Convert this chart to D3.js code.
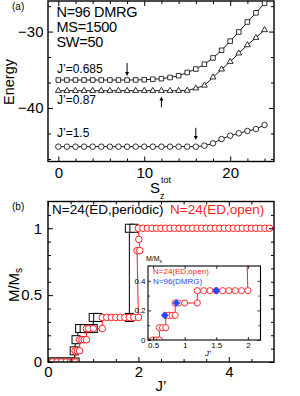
<!DOCTYPE html>
<html>
<head>
<meta charset="utf-8">
<script src="https://d3js.org/d3.v7.min.js"></script>
<style>
  body { margin: 0; background: #fff; }
  svg text { font-family: "Liberation Sans", Arial, sans-serif; }
</style>
</head>
<body>
<script>
// ---- panel (a): DMRG energy vs S_z^tot (N=96)
var szTot = [0,1,2,3,4,5,6,7,8,9,10,11,12,13,14,15,16,17,18,19,20,21,22,23,24];
var energyJ0685 = [-36.34,-36.34,-36.34,-36.34,-36.34,-36.34,-36.34,-36.34,-36.34,-36.33,-36.30,-36.24,-36.16,-36.01,-35.78,-35.35,-34.90,-34.28,-33.45,-32.45,-31.25,-30.05,-28.75,-27.55,-26.30];
var energyJ087 = [-37.74,-37.74,-37.74,-37.74,-37.74,-37.74,-37.74,-37.74,-37.74,-37.74,-37.74,-37.74,-37.74,-37.74,-37.74,-37.72,-37.42,-37.05,-35.98,-34.94,-33.94,-32.84,-31.76,-30.80,-29.79];
var energyJ15 = [-45.06,-45.06,-45.06,-45.06,-45.06,-45.06,-45.06,-45.06,-45.06,-45.06,-45.06,-45.06,-45.06,-45.06,-45.06,-45.06,-45.06,-44.93,-44.62,-44.06,-43.62,-43.31,-43.01,-42.75,-42.22];
// arrows marking the onset of magnetization: S position, tail energy, tip energy
var arrowS = [8, 12, 16];
var arrowFrom = [-34.1, -39.9, -42.6];
var arrowTo = [-35.8, -38.5, -44.2];

var aXMajor = [0, 10, 20];
var aXMinor = [2, 4, 6, 8, 12, 14, 16, 18, 22, 24];
var aYMajor = [-30, -40];
var aYMinor = [-26.67, -33.33, -36.67, -43.33, -46.67];

// ---- panel (b): M/Ms vs J'
var periodicJ = [0, 0.1, 0.2, 0.3, 0.4, 0.5, 0.6, 0.58, 0.62, 0.7, 0.8, 0.9, 1.0, 1.0, 1.1, 1.8, 1.8, 1.9];
var periodicM = [0, 0, 0, 0, 0, 0, 0, 0.0833, 0.1667, 0.25, 0.25, 0.25, 0.25, 0.3333, 0.3333, 0.3333, 1, 1];

var openJ = [0, 0.1, 0.2, 0.3, 0.4, 0.5, 0.55, 0.6,
  0.6, 0.65, 0.7,
  0.7, 0.75, 0.8, 0.85,
  0.85, 0.9, 1.0, 1.2,
  1.2, 1.3, 1.4, 1.5, 1.6, 1.7, 1.8, 1.9, 2.0,
  1.97, 2.03, 2.01,
  2.0, 2.1, 2.2, 2.3, 2.4, 2.5, 2.6, 2.7, 2.8, 2.9, 3.0, 3.1, 3.2, 3.3, 3.4, 3.5,
  3.6, 3.7, 3.8, 3.9, 4.0, 4.1, 4.2, 4.3, 4.4, 4.5, 4.6, 4.7, 4.8, 4.9];
var openM = [0, 0, 0, 0, 0, 0, 0, 0,
  0.0833, 0.0833, 0.0833,
  0.1667, 0.1667, 0.1667, 0.1667,
  0.25, 0.25, 0.25, 0.25,
  0.3333, 0.3333, 0.3333, 0.3333, 0.3333, 0.3333, 0.3333, 0.3333, 0.3333,
  0.833, 0.833, 0.917,
  1, 1, 1, 1, 1, 1, 1, 1, 1, 1, 1, 1, 1, 1, 1, 1,
  1, 1, 1, 1, 1, 1, 1, 1, 1, 1, 1, 1, 1, 1];

var dmrgJ = [0.685, 0.87, 1.5];
var dmrgM = [0.1667, 0.25, 0.3333];

var bXMajor = [0, 2, 4];
var bXMinor = [0.5, 1, 1.5, 2.5, 3, 3.5, 4.5];
var bYMajor = [0, 0.5, 1];
var bYMinor = [0.1, 0.2, 0.3, 0.4, 0.6, 0.7, 0.8, 0.9, 1.1];
var inXMajor = [0.5, 1, 1.5, 2];
var inYMajor = [0, 0.2, 0.4];
var inYMinor = [0.1, 0.3];

var RED = "#ff1e1e", BLUE = "#1f4cff";

var svg = d3.select("body").append("svg")
  .attr("width", 300).attr("height", 396)
  .style("background", "#fff");

function zip(a, b) { return a.map(function (d, i) { return [d, b[i]]; }); }

// inward ticks on all four sides, labels on bottom/left only
function drawAxes(g, x, y, w, h, o) {
  function styleAx(sel) {
    sel.select(".domain").remove();
    sel.selectAll("line").attr("stroke", "#000").attr("stroke-width", o.tickW || 1);
    sel.selectAll("text").style("font-size", o.fs + "px").attr("fill", "#000");
  }
  var bx = g.append("g").attr("transform", "translate(0," + h + ")")
    .call(d3.axisBottom(x).tickValues(o.xMajor).tickSize(-o.major).tickPadding(o.xPad).tickFormat(o.xFmt));
  styleAx(bx);
  var ly = g.append("g")
    .call(d3.axisLeft(y).tickValues(o.yMajor).tickSize(-o.major).tickPadding(o.yPad).tickFormat(o.yFmt));
  styleAx(ly);
  // minor ticks bottom/left, all ticks top/right
  [[d3.axisBottom(x), "translate(0," + h + ")", o.xMinor],
   [d3.axisTop(x), null, o.xMinor],
   [d3.axisLeft(y), null, o.yMinor],
   [d3.axisRight(y), "translate(" + w + ",0)", o.yMinor]
  ].forEach(function (s) {
    var gg = g.append("g");
    if (s[1]) gg.attr("transform", s[1]);
    gg.call(s[0].tickValues(s[2]).tickFormat("").tickSize(-o.minor));
    styleAx(gg);
  });
  var t = g.append("g").call(d3.axisTop(x).tickValues(o.xMajor).tickFormat("").tickSize(-o.major));
  styleAx(t);
  var r = g.append("g").attr("transform", "translate(" + w + ",0)")
    .call(d3.axisRight(y).tickValues(o.yMajor).tickFormat("").tickSize(-o.major));
  styleAx(r);
  g.append("rect").attr("width", w).attr("height", h)
    .attr("fill", "none").attr("stroke", "#000").attr("stroke-width", o.frameW || 1.4);
}

/* ---------------- panel (a) ---------------- */
var pa = {left: 48, top: 1, width: 226, height: 160.5};
var xa = d3.scaleLinear().domain([-1.2, 25.1]).range([0, pa.width]);
var ya = d3.scaleLinear().domain([-47, -26]).range([pa.height, 0]);
var ga = svg.append("g").attr("transform", "translate(" + pa.left + "," + pa.top + ")");

svg.append("defs").append("clipPath").attr("id", "clipA")
  .append("rect").attr("width", pa.width).attr("height", pa.height);

var fmtMinus = function (d) { return d < 0 ? "\u2212" + Math.abs(d) : d; };
drawAxes(ga, xa, ya, pa.width, pa.height, {
  xMajor: aXMajor, xMinor: aXMinor, yMajor: aYMajor, yMinor: aYMinor,
  major: 5, minor: 3, fs: 15, xPad: 5.5, yPad: 4.5, xFmt: d3.format("d"), yFmt: fmtMinus
});

var lineA = d3.line().x(function (d) { return xa(d[0]); }).y(function (d) { return ya(d[1]); });
var plotA = ga.append("g").attr("clip-path", "url(#clipA)");
var seriesA = [
  {vals: energyJ0685, sym: d3.symbolSquare, size: 21},
  {vals: energyJ087, sym: d3.symbolTriangle, size: 15},
  {vals: energyJ15, sym: d3.symbolCircle, size: 24}
];
seriesA.forEach(function (s) {
  var pts = zip(szTot, s.vals);
  plotA.append("path").datum(pts).attr("d", lineA)
    .attr("fill", "none").attr("stroke", "#000").attr("stroke-width", 0.9);
  plotA.selectAll(null).data(pts).enter().append("path")
    .attr("transform", function (d) { return "translate(" + xa(d[0]) + "," + ya(d[1]) + ")"; })
    .attr("d", d3.symbol().type(s.sym).size(s.size))
    .attr("fill", "#fff").attr("stroke", "#000").attr("stroke-width", 0.8);
});

// arrows
arrowS.forEach(function (s, i) {
  var x = xa(s), y0 = ya(arrowFrom[i]), y1 = ya(arrowTo[i]);
  var dir = y1 > y0 ? 1 : -1;
  ga.append("line").attr("x1", x).attr("x2", x).attr("y1", y0).attr("y2", y1 - dir * 2)
    .attr("stroke", "#000").attr("stroke-width", 1);
  ga.append("path")
    .attr("d", "M" + (x - 2) + "," + (y1 - dir * 4) + "L" + x + "," + y1 + "L" + (x + 2) + "," + (y1 - dir * 4) + "Z")
    .attr("fill", "#000");
});

// panel (a) texts
svg.append("text").attr("x", 12).attr("y", 10).style("font-size", "10px").text("(a)");
var infoA = ["N=96  DMRG", "MS=1500", "SW=50"];
infoA.forEach(function (t, i) {
  svg.append("text").attr("x", 56.5).attr("y", 16.5 + i * 15.2)
    .style("font-size", "14.5px").style("letter-spacing", "-0.3px").text(t);
});
var jLabels = ["J\u2019=0.685", "J\u2019=0.87", "J\u2019=1.5"];
var jLabelY = [73, 104, 136.5];
jLabels.forEach(function (t, i) {
  svg.append("text").attr("x", 57).attr("y", jLabelY[i]).style("font-size", "12px").text(t);
});
svg.append("text").attr("transform", "translate(14,82) rotate(-90)")
  .attr("text-anchor", "middle").style("font-size", "14.5px").text("Energy");
svg.append("text").attr("x", 150).attr("y", 193).style("font-size", "15px").text("S");
svg.append("text").attr("x", 160).attr("y", 198.5).style("font-size", "9px").text("z");
svg.append("text").attr("x", 161).attr("y", 183).style("font-size", "9px").text("tot");

/* ---------------- panel (b) ---------------- */
var pb = {left: 48, top: 201.5, width: 226, height: 160.5};
var xb = d3.scaleLinear().domain([0, 5]).range([0, pb.width]);
var yb = d3.scaleLinear().domain([0, 1.2]).range([pb.height, 0]);
var gb = svg.append("g").attr("transform", "translate(" + pb.left + "," + pb.top + ")");
svg.select("defs").append("clipPath").attr("id", "clipB")
  .append("rect").attr("width", pb.width).attr("height", pb.height);

var lineB = d3.line().x(function (d) { return xb(d[0]); }).y(function (d) { return yb(d[1]); });
var plotB = gb.append("g").attr("clip-path", "url(#clipB)");

var perPts = zip(periodicJ, periodicM);
plotB.append("path").datum(perPts).attr("d", lineB)
  .attr("fill", "none").attr("stroke", "#000").attr("stroke-width", 1);
plotB.selectAll(null).data(perPts).enter().append("rect")
  .attr("x", function (d) { return xb(d[0]) - 4; })
  .attr("y", function (d) { return yb(d[1]) - 4; })
  .attr("width", 8).attr("height", 8)
  .attr("fill", "#fff").attr("stroke", "#000").attr("stroke-width", 1);

var openPts = zip(openJ, openM);
plotB.append("path").datum(openPts).attr("d", lineB)
  .attr("fill", "none").attr("stroke", RED).attr("stroke-width", 1);
plotB.selectAll(null).data(openPts).enter().append("circle")
  .attr("cx", function (d) { return xb(d[0]); })
  .attr("cy", function (d) { return yb(d[1]); })
  .attr("r", 3.3)
  .attr("fill", "#fff").attr("stroke", RED).attr("stroke-width", 1);

drawAxes(gb, xb, yb, pb.width, pb.height, {
  xMajor: bXMajor, xMinor: bXMinor, yMajor: bYMajor, yMinor: bYMinor,
  major: 5, minor: 3, fs: 15, xPad: 4.5, yPad: 6, xFmt: d3.format("d"), yFmt: d3.format("")
});

svg.append("text").attr("x", 12).attr("y", 210).style("font-size", "10px").text("(b)");
svg.append("text").attr("x", 52).attr("y", 214).style("font-size", "13.5px").text("N=24(ED,periodic)");
svg.append("text").attr("x", 170).attr("y", 214).style("font-size", "13.5px").attr("fill", RED).text("N=24(ED,open)");
var mLab = svg.append("text").attr("transform", "translate(18.5,285) rotate(-90)")
  .attr("text-anchor", "middle").style("font-size", "15px");
mLab.append("tspan").text("M/M");
mLab.append("tspan").attr("dy", 3).style("font-size", "10px").text("s");
svg.append("text").attr("x", 161).attr("y", 391).attr("text-anchor", "middle")
  .style("font-size", "15px").text("J\u2019");

/* ---------------- inset ---------------- */
var pi = {left: 148, top: 266, width: 112.5, height: 74};
var xi = d3.scaleLinear().domain([0.42, 2.2]).range([0, pi.width]);
var yi = d3.scaleLinear().domain([0, 0.5]).range([pi.height, 0]);
var gi = svg.append("g").attr("transform", "translate(" + pi.left + "," + pi.top + ")");
svg.select("defs").append("clipPath").attr("id", "clipI")
  .append("rect").attr("width", pi.width).attr("height", pi.height);
gi.append("rect").attr("width", pi.width).attr("height", pi.height).attr("fill", "#fff");

var lineI = d3.line().x(function (d) { return xi(d[0]); }).y(function (d) { return yi(d[1]); });
var plotI = gi.append("g").attr("clip-path", "url(#clipI)");
plotI.append("path").datum(openPts).attr("d", lineI)
  .attr("fill", "none").attr("stroke", RED).attr("stroke-width", 1);
plotI.selectAll(null).data(openPts).enter().append("circle")
  .attr("cx", function (d) { return xi(d[0]); })
  .attr("cy", function (d) { return yi(d[1]); })
  .attr("r", 3.1)
  .attr("fill", "#fff").attr("stroke", RED).attr("stroke-width", 0.9);
plotI.selectAll(null).data(zip(dmrgJ, dmrgM)).enter().append("path")
  .attr("transform", function (d) { return "translate(" + xi(d[0]) + "," + yi(d[1]) + ") rotate(45)"; })
  .attr("d", d3.symbol().type(d3.symbolSquare).size(30))
  .attr("fill", BLUE);

drawAxes(gi, xi, yi, pi.width, pi.height, {
  xMajor: inXMajor, xMinor: [], yMajor: inYMajor, yMinor: inYMinor,
  major: 3, minor: 2, fs: 8, xPad: 2.5, yPad: 2.5, xFmt: d3.format(""), yFmt: d3.format(""),
  tickW: 0.8, frameW: 1.1
});

svg.append("text").attr("x", 146).attr("y", 261).style("font-size", "7px").text("M/M")
  .append("tspan").attr("dy", 1.5).style("font-size", "5px").text("s");
svg.append("text").attr("x", 153).attr("y", 274).style("font-size", "8px").attr("fill", RED).text("N=24(ED,open)");
svg.append("text").attr("x", 153).attr("y", 284).style("font-size", "8px").attr("fill", BLUE).text("N=96(DMRG)");
svg.append("text").attr("x", 205).attr("y", 356).style("font-size", "8px").style("font-style", "italic").text("J\u2019");
</script>
</body>
</html>
